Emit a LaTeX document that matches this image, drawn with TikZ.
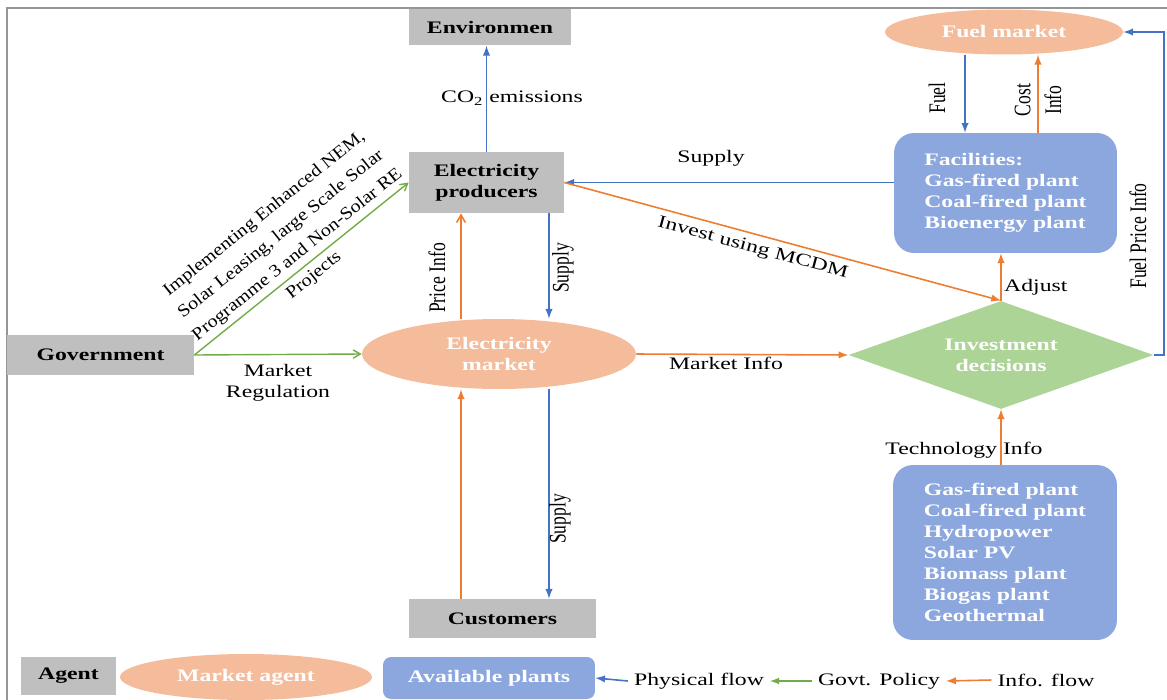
\documentclass[tikz,border=0pt]{standalone}
\usepackage{fontspec}
\setmainfont{Liberation Serif}[FakeStretch=1.35]
\newfontfamily\plainserif{Liberation Serif}[FakeStretch=0.74]
\newfontfamily\slantserif{Liberation Serif}[FakeStretch=1.15]
\usepackage{tikz}
\usetikzlibrary{arrows}
\usetikzlibrary{shapes.geometric}

\definecolor{agentgray}{RGB}{191,191,191}
\definecolor{mktpeach}{RGB}{245,188,155}
\definecolor{plantblue}{RGB}{140,167,222}
\definecolor{decgreen}{RGB}{172,212,150}
\definecolor{physblue}{RGB}{68,114,196}
\definecolor{infoorange}{RGB}{237,125,49}
\definecolor{govgreen}{RGB}{112,173,71}
\definecolor{framegray}{RGB}{150,150,150}

\begin{document}
\begin{tikzpicture}[x=0.02cm,y=0.02cm,
  agent/.style={fill=agentgray,font=\bfseries,inner sep=2pt},
  market/.style={ellipse,fill=mktpeach,text=white,font=\bfseries,align=center,inner sep=0pt},
  plants/.style={rectangle,rounded corners=0.4cm,fill=plantblue,text=white,font=\bfseries,align=left},
  physarr/.style={draw=physblue,line width=0.9pt,-latex},
  infoarr/.style={draw=infoorange,line width=0.9pt,-latex},
  infoopen/.style={draw=infoorange,line width=0.9pt,->,>=angle 60},
  govarr/.style={draw=govgreen,line width=0.8pt,->,>=angle 60},
  vlabel/.style={rotate=90,font=\plainserif\fontsize{13.5}{15}\selectfont,align=center}]
\useasboundingbox (0,0) rectangle (1167,-700);
\draw[framegray,line width=1pt] (7,-700) |- (1167,-8);

% agents
\node[agent,minimum width=3.26cm,minimum height=0.74cm] (env) at (490,-27) {Environmen};
\node[agent,minimum width=3.1cm,minimum height=1.22cm,align=center] (prod) at (486.5,-182.5) {Electricity\\producers};
\node[agent,minimum width=3.74cm,minimum height=0.8cm] (gov) at (100.5,-355) {Government};
\node[agent,minimum width=3.74cm,minimum height=0.78cm] (cust) at (502.5,-618.5) {Customers};

% markets
\node[market,minimum width=5.48cm,minimum height=1.4cm] (mkt) at (499,-354) {Electricity\\market};
\node[market,minimum width=4.76cm,minimum height=0.9cm] (fuel) at (1004,-32) {Fuel market};

% plants and decisions
\node[plants,minimum width=4.46cm,minimum height=2.4cm] (fac) at (1005.5,-193) {Facilities:\\Gas-fired plant\\Coal-fired plant\\Bioenergy plant};
\node[plants,minimum width=4.48cm,minimum height=3.5cm] (tech) at (1005,-552.5) {Gas-fired plant\\Coal-fired plant\\Hydropower\\Solar PV\\Biomass plant\\Biogas plant\\Geothermal};
\node[diamond,aspect=2.8,fill=decgreen,text=white,font=\bfseries,align=center,minimum width=6.1cm,minimum height=2.16cm,inner sep=0pt] (inv) at (1001,-355) {Investment\\decisions};

\coordinate (infox) at ([xshift=-0.76cm]mkt.north);
\coordinate (supplyx) at ([xshift=1cm]mkt.north);
\coordinate (fuelx) at ([xshift=-0.78cm]fuel.south);
\coordinate (costx) at ([xshift=0.68cm]fuel.south);

% physical flows
\draw[physarr] (prod.north) -- (prod.north |- env.south);
\node (co2) at (512,-98) {CO\textsubscript{2} emissions};
\draw[physarr] (fac.west |- prod.east) -- (prod.east);
\node (supplyfac) at (711,-158) {Supply};
\draw[physarr] (supplyx |- prod.south) -- (supplyx);
\node[vlabel] (supplyprod) at (563,-268) {Supply};
\draw[physarr] (supplyx |- mkt.south) -- (supplyx |- cust.north);
\node[vlabel] (supplycust) at (560,-519) {Supply};
\draw[physarr] (fuelx) -- (fuelx |- fac.north);
\node[vlabel] (fuellbl) at (937,-98) {Fuel};
\draw[physarr] (inv.east) -- ++(10,0) |- (fuel.east);
\node[vlabel] (fpinfo) at (1138,-236) {Fuel Price Info};

% info flows
\draw[infoarr] (prod.east) -- (inv.north) node[sloped,below,pos=0.44] (mcdm) {Invest using MCDM};
\draw[infoopen] (infox) -- (infox |- prod.south);
\node[vlabel] (price) at (437,-278) {Price Info};
\draw[infoarr] (infox |- cust.north) -- (infox |- mkt.south);
\draw[infoarr] (mkt.east) -- (inv.west);
\node (mktinfo) at (726,-363) {Market Info};
\draw[infoarr] (costx |- fac.north) -- (costx);
\node[vlabel] (costinfo) at (1038,-100) {Cost\\[2.5pt]Info};
\draw[infoarr] (inv.north) -- (inv.north |- fac.south);
\node[anchor=west] (adjust) at (998,-287) {Adjust};
\draw[infoarr] (inv.south |- tech.north) -- (inv.south);
\node (techinfo) at (964,-450) {Technology Info};

% govt. policy
\draw[govarr] (gov.east) -- (prod.west) node[sloped,pos=0.52,yshift=15pt,align=center,font=\slantserif] (policy) {Implementing Enhanced NEM,\\[3pt]Solar Leasing, large Scale Solar\\[3pt]Programme 3 and Non-Solar RE\\[3pt]Projects};
\draw[govarr] (gov.east) -- (mkt.west);
\node[align=center] (mktreg) at (278,-383) {Market\\Regulation};

% legend
\node[agent,minimum width=1.9cm,minimum height=0.76cm] (lgagent) at (68.5,-676) {Agent};
\node[market,minimum width=5.04cm,minimum height=0.92cm] (lgmkt) at (246,-677) {Market agent};
\node[plants,rounded corners=0.16cm,minimum width=4.24cm,minimum height=0.84cm] (lgplants) at (489,-678) {Available plants};
\node (lgphys) at (699,-681) {Physical flow};
\node (lggov) at (879,-681) {Govt. Policy};
\node (lginfo) at (1046,-680) {Info. flow};
\draw[physarr] (lgphys.west) -- (lgplants.east);
\draw[govarr,-latex] (lggov.west) -- (lgphys.east);
\draw[infoarr] (lginfo.west) -- (lggov.east);
\end{tikzpicture}
\end{document}
